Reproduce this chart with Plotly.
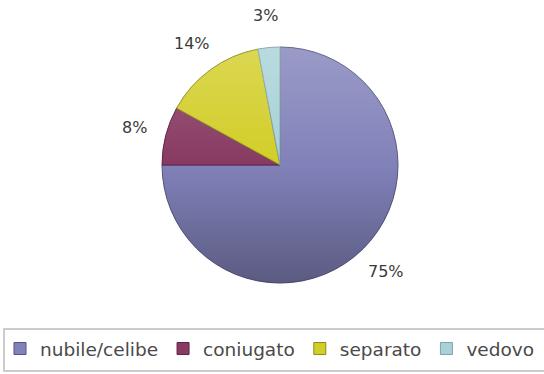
import math
import base64
import struct
import zlib
import plotly.graph_objects as go

# Stato civile: share of respondents (%)
categories = ["nubile/celibe", "coniugato", "separato", "vedovo"]
values = [75, 8, 14, 3]
slice_colors = ["#8282ba", "#883a62", "#d2ce28", "#a8d2d8"]
edge_colors = ["#55557f", "#5e2444", "#8d8a1e", "#7fa2a8"]

W, H = 580, 374
cx, cy, r = 280, 165, 118          # pie centre / radius in px
label_r = 150                      # distance of value labels from the centre


def shading_png(radius, top_white=0.2, bottom_black=0.3):
    """Round RGBA overlay: light at the top, dark at the bottom."""
    size = 2 * radius + 1
    rows = []
    for y in range(size):
        t = (y + 0.5 - size / 2) / radius
        if t < 0:
            rgb, a = (255, 255, 255), top_white * min(1.0, -t)
        else:
            rgb, a = (0, 0, 0), bottom_black * min(1.0, t)
        row = bytearray([0])
        for x in range(size):
            d = math.hypot(x + 0.5 - size / 2, y + 0.5 - size / 2)
            m = max(0.0, min(1.0, radius + 0.5 - d))
            row += bytes((*rgb, int(round(255 * a * m))))
        rows.append(bytes(row))
    raw = b"".join(rows)

    def chunk(tag, data):
        c = struct.pack(">I", len(data)) + tag + data
        return c + struct.pack(">I", zlib.crc32(tag + data) & 0xFFFFFFFF)

    png = b"\x89PNG\r\n\x1a\n"
    png += chunk(b"IHDR", struct.pack(">IIBBBBB", size, size, 8, 6, 0, 0, 0))
    png += chunk(b"IDAT", zlib.compress(raw, 9))
    png += chunk(b"IEND", b"")
    return "data:image/png;base64," + base64.b64encode(png).decode()


fig = go.Figure(
    go.Pie(
        labels=categories,
        values=values,
        sort=False,
        direction="clockwise",
        rotation=0,
        textinfo="none",
        hoverinfo="label+percent",
        marker=dict(colors=slice_colors, line=dict(color=edge_colors, width=1)),
        domain=dict(x=[(cx - r) / W, (cx + r) / W], y=[1 - (cy + r) / H, 1 - (cy - r) / H]),
    )
)

# value labels placed outside each slice along its mid angle
total = sum(values)
acc = 0
annotations = []
for v in values:
    mid = (acc + v / 2) / total * 2 * math.pi
    acc += v
    px = cx + label_r * math.sin(mid)
    py = cy - label_r * math.cos(mid)
    annotations.append(dict(
        x=px / W, y=1 - py / H, xref="paper", yref="paper",
        text=f"{v}%", showarrow=False, xanchor="center", yanchor="middle",
        font=dict(family="DejaVu Sans", size=16, color="#3a3a3a"),
    ))

# frame around the legend row
legend_frame = dict(
    type="rect", xref="paper", yref="paper",
    x0=4 / W, x1=640 / W, y0=1 - 371 / H, y1=1 - 329 / H,
    line=dict(color="#cccccc", width=2), fillcolor="rgba(0,0,0,0)",
)

# soft vertical shading laid over the pie disc
shade = dict(
    source=shading_png(r), xref="paper", yref="paper",
    x=(cx - r - 0.5) / W, y=1 - (cy - r - 0.5) / H,
    sizex=(2 * r + 1) / W, sizey=(2 * r + 1) / H,
    xanchor="left", yanchor="top", sizing="stretch", layer="above",
)

fig.update_layout(
    width=W, height=H,
    margin=dict(l=0, r=0, t=0, b=0, autoexpand=False),
    paper_bgcolor="white", plot_bgcolor="white",
    annotations=annotations,
    shapes=[legend_frame],
    images=[shade],
    showlegend=True,
    legend=dict(
        orientation="h", x=0, xanchor="left", y=1 - 349 / H, yanchor="middle",
        borderwidth=0, bgcolor="rgba(0,0,0,0)",
        font=dict(family="DejaVu Sans", size=18.5, color="#4a4a4a"),
    ),
)

fig.write_html(
    "out.html",
    post_script="document.documentElement.style.overflow='hidden';"
                "document.body.style.overflow='hidden';document.body.style.margin='0';",
)
